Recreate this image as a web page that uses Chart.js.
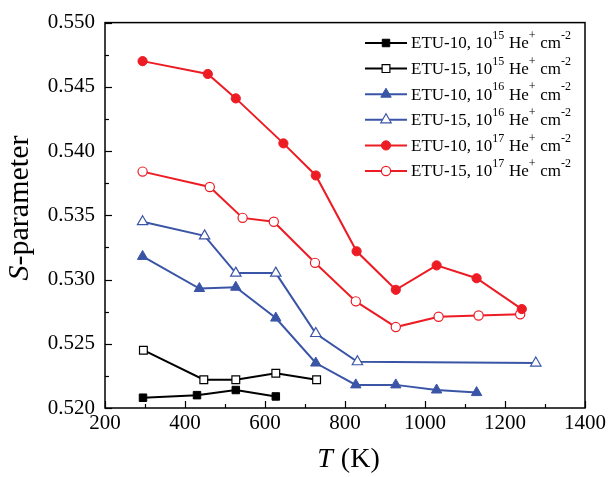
<!DOCTYPE html>
<html><head><meta charset="utf-8">
<script src="https://cdn.jsdelivr.net/npm/chart.js@4/dist/chart.umd.min.js"></script>
<style>html,body{margin:0;padding:0;background:#fff}</style>
</head><body>
<canvas id="c" width="610" height="477" style="width:610px;height:477px;display:block"></canvas>
<script>
// ---- data ----
const T_ETU10_15 = [295, 430, 527, 627];
const S_ETU10_15 = [0.5208, 0.5210, 0.5214, 0.5209];
const T_ETU15_15 = [296, 447, 527, 627, 729];
const S_ETU15_15 = [0.5245, 0.5222, 0.5222, 0.5227, 0.5222];
const T_ETU10_16 = [294, 436, 527, 627, 727, 827, 927, 1029, 1129];
const S_ETU10_16 = [0.5318, 0.5293, 0.5294, 0.5270, 0.5235, 0.5218, 0.5218, 0.5214, 0.5212];
const T_ETU15_16 = [294, 449, 527, 627, 727, 831, 1277];
const S_ETU15_16 = [0.5345, 0.5334, 0.5305, 0.5305, 0.5258, 0.5236, 0.5235];
const T_ETU10_17 = [294, 457, 527, 646, 727, 829, 927, 1029, 1129, 1242];
const S_ETU10_17 = [0.5470, 0.5460, 0.5441, 0.5406, 0.5381, 0.5322, 0.5292, 0.5311, 0.5301, 0.5277];
const T_ETU15_17 = [294, 462, 544, 622, 725, 827, 927, 1034, 1134, 1238];
const S_ETU15_17 = [0.5384, 0.5372, 0.5348, 0.5345, 0.5313, 0.5283, 0.5263, 0.5271, 0.5272, 0.5273];

const sampleNames = ["ETU-10", "ETU-15", "ETU-10", "ETU-15", "ETU-10", "ETU-15"];
const fluenceExp = ["15", "15", "16", "16", "17", "17"];
const xTickValues = [200, 400, 600, 800, 1000, 1200, 1400];
const yTickValues = [0.520, 0.525, 0.530, 0.535, 0.540, 0.545, 0.550];
const xTitle = ["T", " (K)"];
const yTitle = ["S", "-parameter"];

const RED = '#ED1C24', BLUE = '#3A55A6', BLACK = '#000000';
const SERIF = '"Liberation Serif", "Times New Roman", serif';
Chart.defaults.font.family = SERIF;

function pts(xs, ys){ return xs.map((x,i)=>({x:x, y:ys[i]})); }
function ds(xs, ys, color, style, filled, r){
  return {
    data: pts(xs, ys), borderColor: color, borderWidth: 2,
    pointStyle: style, pointRadius: r, pointHoverRadius: r,
    pointBackgroundColor: filled ? color : '#ffffff',
    pointBorderColor: color, pointBorderWidth: filled ? 1 : 1.2,
    tension: 0, fill: false
  };
}
const datasets = [
  ds(T_ETU10_15, S_ETU10_15, BLACK, 'rect', true, 5.3),
  ds(T_ETU15_15, S_ETU15_15, BLACK, 'rect', false, 5.5),
  ds(T_ETU10_16, S_ETU10_16, BLUE, 'triangle', true, 6),
  ds(T_ETU15_16, S_ETU15_16, BLUE, 'triangle', false, 6),
  ds(T_ETU10_17, S_ETU10_17, RED, 'circle', true, 4.6),
  ds(T_ETU15_17, S_ETU15_17, RED, 'circle', false, 4.6)
];

const decor = {
  id: 'decor',
  afterDraw(chart){
    const ctx = chart.ctx, a = chart.chartArea;
    const xs = chart.scales.x, ys = chart.scales.y;
    ctx.save();
    // frame
    ctx.strokeStyle = '#000'; ctx.lineWidth = 1.5;
    ctx.strokeRect(a.left, a.top, a.right - a.left, a.bottom - a.top);
    // x ticks (inside)
    ctx.lineWidth = 1.2;
    for (let v = xTickValues[0]; v <= xTickValues[xTickValues.length-1]; v += 100){
      const px = Math.round(xs.getPixelForValue(v)) + 0.5;
      const major = (v % 200) === 0;
      ctx.beginPath(); ctx.moveTo(px, a.bottom); ctx.lineTo(px, a.bottom - (major ? 7 : 4)); ctx.stroke();
    }
    // y ticks (inside)
    for (let i = 0; i <= 12; i++){
      const v = yTickValues[0] + i * 0.0025;
      const py = Math.round(ys.getPixelForValue(v)) + 0.5;
      const major = i % 2 === 0;
      ctx.beginPath(); ctx.moveTo(a.left, py); ctx.lineTo(a.left + (major ? 7 : 4), py); ctx.stroke();
    }
    // axis titles
    ctx.fillStyle = '#000'; ctx.textBaseline = 'alphabetic'; ctx.textAlign = 'left';
    // x title
    let fI = 'italic 28px ' + SERIF, fN = '28px ' + SERIF;
    ctx.font = fI; const w1 = ctx.measureText(xTitle[0]).width;
    ctx.font = fN; const w2 = ctx.measureText(xTitle[1]).width;
    let sx = 348 - (w1 + w2)/2;
    ctx.font = fI; ctx.fillText(xTitle[0], sx, 467);
    ctx.font = fN; ctx.fillText(xTitle[1], sx + w1 + 1, 467);
    // y title
    fI = 'italic 30px ' + SERIF; fN = '30px ' + SERIF;
    ctx.save();
    ctx.translate(28, 208);
    ctx.rotate(-Math.PI/2);
    ctx.font = fI; const v1 = ctx.measureText(yTitle[0]).width;
    ctx.font = fN; const v2 = ctx.measureText(yTitle[1]).width;
    let sy = -(v1 + v2)/2;
    ctx.font = fI; ctx.fillText(yTitle[0], sy, 0);
    ctx.font = fN; ctx.fillText(yTitle[1], sy + v1, 0);
    ctx.restore();
    // legend
    const lx0 = 365, lx1 = 407, tx = 411, y0 = 43, dy = 25.6;
    chart.data.datasets.forEach((d, i) => {
      const y = y0 + i * dy;
      ctx.strokeStyle = d.borderColor; ctx.lineWidth = 2;
      ctx.beginPath(); ctx.moveTo(lx0, y); ctx.lineTo(lx1, y); ctx.stroke();
      ctx.fillStyle = d.pointBackgroundColor; ctx.strokeStyle = d.pointBorderColor;
      ctx.lineWidth = d.pointBorderWidth;
      Chart.helpers.drawPoint(ctx, {pointStyle: d.pointStyle, radius: d.pointRadius, borderWidth: d.pointBorderWidth}, (lx0 + lx1)/2, y);
      // text with superscripts
      ctx.fillStyle = '#000'; ctx.textAlign = 'left'; ctx.textBaseline = 'middle';
      const big = '17px ' + SERIF, small = '12px ' + SERIF;
      const parts = [
        [sampleNames[i] + ', 10', false], [fluenceExp[i], true],
        [' He', false], ['+', true], [' cm', false], ['-2', true]
      ];
      let x = tx;
      parts.forEach(([s, sup]) => {
        ctx.font = sup ? small : big;
        ctx.fillText(s, x, sup ? y - 7 : y + 1);
        x += ctx.measureText(s).width + (sup ? 0.5 : 0);
      });
    });
    ctx.restore();
  }
};

new Chart(document.getElementById('c'), {
  type: 'line',
  data: { datasets: datasets },
  options: {
    responsive: false, animation: false, devicePixelRatio: 1,
    layout: { padding: { left: 0, right: 25, top: 20, bottom: 0 } },
    plugins: { legend: { display: false }, tooltip: { enabled: false } },
    scales: {
      x: {
        type: 'linear', min: 200, max: 1400,
        afterBuildTicks: s => { s.ticks = xTickValues.map(v => ({value: v})); },
        afterFit: s => { s.height = 69; },
        grid: { display: false, drawTicks: false }, border: { display: false },
        ticks: { padding: 3, color: '#000', font: { family: SERIF, size: 21 }, maxRotation: 0, autoSkip: false,
                 callback: v => String(v) }
      },
      y: {
        type: 'linear', min: 0.520, max: 0.550,
        afterBuildTicks: s => { s.ticks = yTickValues.map(v => ({value: v})); },
        afterFit: s => { s.width = 105; },
        grid: { display: false, drawTicks: false }, border: { display: false },
        ticks: { padding: 10, color: '#000', font: { family: SERIF, size: 21 }, autoSkip: false,
                 callback: v => Number(v).toFixed(3) }
      }
    }
  },
  plugins: [decor]
});
</script>
</body></html>
